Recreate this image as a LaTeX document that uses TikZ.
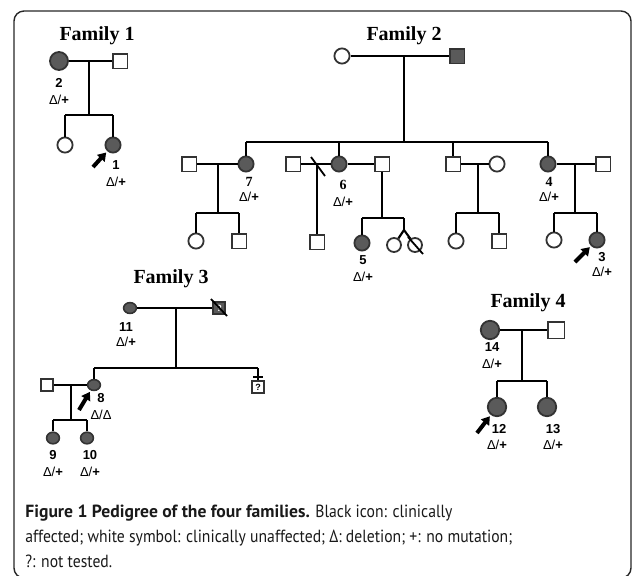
\documentclass[tikz,border=0pt]{standalone}
\usepackage{fontspec}
\setmainfont{Liberation Serif}
\setsansfont{Liberation Sans}
\newfontfamily\capfont[FakeStretch=0.89]{PT Sans}
\newfontfamily\capbold{PT Sans Bold}
\usetikzlibrary{shapes.geometric,arrows.meta}
\definecolor{aff}{HTML}{5A5A5A}
\definecolor{edgec}{HTML}{333333}
\begin{document}
\begin{tikzpicture}[x=0.5pt,y=-0.5pt,
  ped/.style={line width=1.05pt,draw=black},
  fem/.style={circle,draw=edgec,line width=0.9pt,fill=white,minimum size=7.6pt,inner sep=0pt},
  afem/.style={fem,fill=aff},
  mal/.style={rectangle,draw=edgec,line width=0.9pt,fill=white,minimum size=7.4pt,inner sep=0pt},
  amal/.style={mal,fill=aff},
  efem/.style={ellipse,draw=edgec,line width=0.8pt,fill=aff,minimum width=6.4pt,minimum height=5.4pt,inner sep=0pt},
  smal/.style={mal,minimum size=6.2pt,line width=0.8pt,font=\fontsize{4.5}{5}\selectfont\sffamily\bfseries},
  famtitle/.style={font=\fontsize{10}{12}\selectfont\bfseries,inner sep=0pt},
  num/.style={font=\fontsize{6.5}{7}\selectfont\sffamily\bfseries,inner sep=0pt},
  snum/.style={font=\fontsize{7}{8}\selectfont\bfseries,inner sep=0pt},
  geno/.style={font=\fontsize{6.5}{7}\selectfont\sffamily,inner sep=0pt},
  proband/.style={line width=2pt,-{Triangle[width=5pt,length=4pt]},shorten >=0.8pt},
  slashmark/.style={line width=0.9pt,draw=black},
  captext/.style={font=\fontsize{8.8}{10}\selectfont\capfont,inner sep=0pt,anchor=base west,text=black!90}
]
\useasboundingbox (0,0) rectangle (633,575);
\draw[line width=0.7pt,draw=black!85,rounded corners=5pt] (14,11) rectangle (631,578);

% ---------------- Family 1
\node[famtitle] (t1) at (97,36) {Family 1};
\node[afem,minimum size=9pt] (p2) at (59,61) {};
\node[mal] (p2h) at (120,61) {};
\coordinate (m1) at (89,61);
\coordinate (s1) at (89,115);
\coordinate (s1a) at (65,115);
\coordinate (s1b) at (113,115);
\node[fem] (c1a) at (65,145) {};
\node[afem] (p1) at (113,145) {};
\draw[ped] (p2) -- (p2h);
\draw[ped] (m1) -- (s1);
\draw[ped] (s1a) -- (s1b);
\draw[ped] (s1a) -- (c1a);
\draw[ped] (s1b) -- (p1);
\node[num] (n2) at (59,83) {2};
\node[geno] (g2) at (59,100) {Δ/\textbf{+}};
\node[num] (n1) at (116,165) {1};
\node[geno] (g1) at (116,182) {Δ/\textbf{+}};
\coordinate (a1) at (93,167);
\draw[proband] (a1) -- (p1);

% ---------------- Family 2
\node[famtitle] (t2) at (404,36) {Family 2};
\node[fem] (f2a) at (342,56) {};
\node[amal] (f2b) at (457,56) {};
\coordinate (m2) at (404,56);
\coordinate (s2) at (404,142);
\coordinate (s2a) at (246,142);
\coordinate (s2c) at (339,142);
\coordinate (s2d) at (453,142);
\coordinate (s2b) at (548,142);
\draw[ped] (f2a) -- (f2b);
\draw[ped] (m2) -- (s2);
\draw[ped] (s2a) -- (s2b);
% generation II
\node[mal] (p7h) at (189,164) {};
\node[afem] (p7) at (246,164) {};
\node[mal] (p6x) at (293,164) {};
\node[afem] (p6) at (339,164) {};
\node[mal] (p6h) at (382,164) {};
\node[mal] (c2) at (453,164) {};
\node[fem] (c2w) at (497,164) {};
\node[afem] (p4) at (548,164) {};
\node[mal] (p4h) at (603,164) {};
\draw[ped] (s2a) -- (p7);
\draw[ped] (s2c) -- (p6);
\draw[ped] (s2d) -- (c2);
\draw[ped] (s2b) -- (p4);
% family of 7
\draw[ped] (p7h) -- (p7);
\coordinate (m7) at (218,164);
\coordinate (s7) at (218,213);
\coordinate (s7a) at (196,213);
\coordinate (s7b) at (239,213);
\node[fem] (c7a) at (196,241) {};
\node[mal] (c7b) at (239,241) {};
\draw[ped] (m7) -- (s7);
\draw[ped] (s7a) -- (s7b);
\draw[ped] (s7a) -- (c7a);
\draw[ped] (s7b) -- (c7b);
% family of 6 (first partner, separated)
\draw[ped] (p6x) -- (p6);
\coordinate (d6a) at (311,157);
\coordinate (d6b) at (325,176);
\draw[slashmark] (d6a) -- (d6b);
\coordinate (m6x) at (317,164);
\node[mal] (c6x) at (317,242) {};
\draw[ped] (m6x) -- (c6x);
% family of 6 (second partner)
\draw[ped] (p6) -- (p6h);
\coordinate (s6) at (382,218);
\coordinate (s6a) at (362,218);
\coordinate (s6b) at (404,218);
\coordinate (tw) at (404,230);
\node[afem] (p5) at (362,243) {};
\node[fem,minimum size=7pt] (twa) at (394,245) {};
\node[fem,minimum size=7pt] (twb) at (415,245) {};
\draw[ped] (p6h) -- (s6);
\draw[ped] (s6a) -- (s6b);
\draw[ped] (s6a) -- (p5);
\draw[ped] (s6b) -- (tw);
\draw[ped] (tw) -- (twa);
\draw[ped] (tw) -- (twb);
\coordinate (dtw1) at (408,237);
\coordinate (dtw2) at (423,254);
\draw[slashmark] (dtw1) -- (dtw2);
% family of third child
\draw[ped] (c2) -- (c2w);
\coordinate (m3c) at (478,164);
\coordinate (s3c) at (478,213);
\coordinate (s3ca) at (456,213);
\coordinate (s3cb) at (499,213);
\node[fem] (c3a) at (456,241) {};
\node[mal] (c3b) at (499,241) {};
\draw[ped] (m3c) -- (s3c);
\draw[ped] (s3ca) -- (s3cb);
\draw[ped] (s3ca) -- (c3a);
\draw[ped] (s3cb) -- (c3b);
% family of 4
\draw[ped] (p4) -- (p4h);
\coordinate (m4) at (575,164);
\coordinate (s4) at (575,213);
\coordinate (s4a) at (554,213);
\coordinate (s4b) at (597,213);
\node[fem] (c4a) at (554,240) {};
\node[afem] (p3) at (597,240) {};
\draw[ped] (m4) -- (s4);
\draw[ped] (s4a) -- (s4b);
\draw[ped] (s4a) -- (c4a);
\draw[ped] (s4b) -- (p3);
\coordinate (a3) at (575,262);
\draw[proband] (a3) -- (p3);
% labels
\node[snum] (n7) at (249,182) {7};
\node[geno] (g7) at (249,197) {Δ/\textbf{+}};
\node[snum] (n6) at (343,185) {6};
\node[geno] (g6) at (343,202) {Δ/\textbf{+}};
\node[num] (n5) at (363,260) {5};
\node[geno] (g5) at (363,277) {Δ/\textbf{+}};
\node[snum] (n4) at (549,182) {4};
\node[geno] (g4) at (549,197) {Δ/\textbf{+}};
\node[num] (n3) at (602,257) {3};
\node[geno] (g3) at (602,272) {Δ/\textbf{+}};

% ---------------- Family 3
\node[famtitle] (t3) at (171,279) {Family 3};
\node[efem] (p11) at (130,308) {};
\node[smal,fill=aff,text=white] (p11h) at (219,308) {?};
\coordinate (m11) at (176,308);
\coordinate (s11) at (176,368);
\coordinate (s11a) at (94,368);
\coordinate (s11b) at (258,368);
\draw[ped] (p11) -- (p11h);
\coordinate (d11a) at (211,299);
\coordinate (d11b) at (227,316);
\draw[slashmark] (d11a) -- (d11b);
\draw[ped] (m11) -- (s11);
\draw[ped] (s11a) -- (s11b);
\node[efem] (p8) at (94,385) {};
\node[smal] (c11b) at (258,387) {?};
\draw[ped] (s11a) -- (p8);
\draw[ped] (s11b) -- (c11b);
\coordinate (bar1) at (253,377);
\coordinate (bar2) at (263,377);
\draw[ped] (bar1) -- (bar2);
\node[smal] (p8h) at (47,385) {};
\coordinate (m8) at (71,385);
\coordinate (s8) at (71,420);
\coordinate (s8a) at (53,420);
\coordinate (s8b) at (87,420);
\node[efem,minimum height=5.8pt] (p9) at (53,438) {};
\node[efem,minimum height=5.8pt] (p10) at (87,438) {};
\draw[ped] (p8h) -- (p8);
\draw[ped] (m8) -- (s8);
\draw[ped] (s8a) -- (s8b);
\draw[ped] (s8a) -- (p9);
\draw[ped] (s8b) -- (p10);
\coordinate (a8) at (79,410);
\draw[proband] (a8) -- (p8);
\node[num] (n11) at (126,327) {11};
\node[geno] (g11) at (126,342) {Δ/\textbf{+}};
\node[num] (n8) at (101,398) {8};
\node[geno] (g8) at (101,415) {Δ/Δ};
\node[num] (n9) at (53,455) {9};
\node[geno] (g9) at (53,472) {Δ/\textbf{+}};
\node[num] (n10) at (90,455) {10};
\node[geno] (g10) at (90,472) {Δ/\textbf{+}};

% ---------------- Family 4
\node[famtitle] (t4) at (528,303) {Family 4};
\node[afem,minimum size=9.2pt] (p14) at (490,330) {};
\node[mal,minimum size=8.4pt] (p14h) at (556,330) {};
\coordinate (m14) at (522,330);
\coordinate (s14) at (522,381);
\coordinate (s14a) at (497,381);
\coordinate (s14b) at (547,381);
\node[afem,minimum size=9.2pt] (p12) at (497,407) {};
\node[afem,minimum size=9.2pt] (p13) at (547,407) {};
\draw[ped] (p14) -- (p14h);
\draw[ped] (m14) -- (s14);
\draw[ped] (s14a) -- (s14b);
\draw[ped] (s14a) -- (p12);
\draw[ped] (s14b) -- (p13);
\coordinate (a12) at (477,433);
\draw[proband] (a12) -- (p12);
\node[num] (n14) at (492,347) {14};
\node[geno] (g14) at (492,364) {Δ/\textbf{+}};
\node[num] (n12) at (499,429) {12};
\node[geno] (g12) at (497,445) {Δ/\textbf{+}};
\node[num] (n13) at (553,429) {13};
\node[geno] (g13) at (553,445) {Δ/\textbf{+}};

% ---------------- Caption
\node[captext] (cap1) at (25,517) {{\capbold Figure 1 Pedigree of the four families.} Black icon: clinically};
\node[captext] (cap2) at (25,542) {affected; white symbol: clinically unaffected; Δ: deletion; +: no mutation;};
\node[captext] (cap3) at (25,567) {?: not tested.};
\end{tikzpicture}
\end{document}
